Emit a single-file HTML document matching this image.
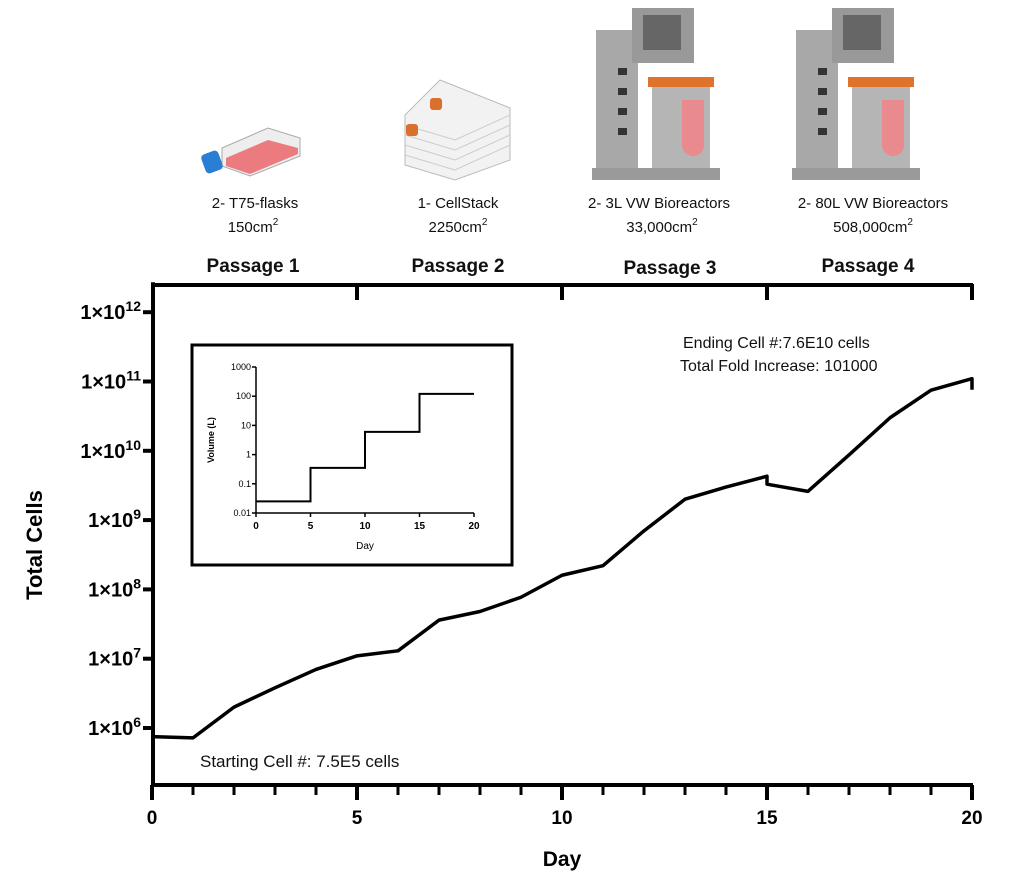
<!DOCTYPE html>
<html><head><meta charset="utf-8">
<style>
body{margin:0;background:#fff;}
svg{display:block;font-family:"Liberation Sans",Arial,sans-serif;}
</style></head>
<body>
<svg id="chart" width="1014" height="883" viewBox="0 0 1014 883" xmlns="http://www.w3.org/2000/svg">
<g>
 <g>
  <polygon points="222,148 268,128 300,138 300,156 250,176 222,166" fill="#eee" stroke="#aaa"/>
  <polygon points="226,158 268,140 298,148 298,154 250,174 226,166" fill="#ec7b80"/>
  <rect x="203" y="152" width="18" height="20" rx="4" fill="#2a7fd4" transform="rotate(-20 212 162)"/>
 </g>
 <g>
  <polygon points="405,115 440,80 510,108 510,160 455,180 405,165" fill="#f2f2f2" stroke="#bbb"/>
  <g stroke="#ccc" fill="none">
   <path d="M405,125 L455,140 L510,115"/><path d="M405,135 L455,150 L510,125"/><path d="M405,145 L455,160 L510,135"/><path d="M405,155 L455,170 L510,145"/>
  </g>
  <rect x="406" y="124" width="12" height="12" rx="3" fill="#d9702c"/>
  <rect x="430" y="98" width="12" height="12" rx="3" fill="#d9702c"/>
 </g>
 <g>
  <rect x="596" y="30" width="42" height="145" fill="#a8a8a8"/>
  <rect x="632" y="8" width="62" height="55" fill="#999"/>
  <rect x="643" y="15" width="38" height="35" fill="#666"/>
  <rect x="652" y="85" width="58" height="88" fill="#b5b5b5"/>
  <rect x="648" y="77" width="66" height="10" fill="#e0732c"/>
  <path d="M682,100 h22 v45 a11,11 0 0 1 -22,0z" fill="#e98a8f"/>
  <rect x="592" y="168" width="128" height="12" fill="#9a9a9a"/>
  <g fill="#333"><rect x="618" y="68" width="9" height="7"/><rect x="618" y="88" width="9" height="7"/><rect x="618" y="108" width="9" height="7"/><rect x="618" y="128" width="9" height="7"/></g>
 </g>
 <g>
  <rect x="796" y="30" width="42" height="145" fill="#a8a8a8"/>
  <rect x="832" y="8" width="62" height="55" fill="#999"/>
  <rect x="843" y="15" width="38" height="35" fill="#666"/>
  <rect x="852" y="85" width="58" height="88" fill="#b5b5b5"/>
  <rect x="848" y="77" width="66" height="10" fill="#e0732c"/>
  <path d="M882,100 h22 v45 a11,11 0 0 1 -22,0z" fill="#e98a8f"/>
  <rect x="792" y="168" width="128" height="12" fill="#9a9a9a"/>
  <g fill="#333"><rect x="818" y="68" width="9" height="7"/><rect x="818" y="88" width="9" height="7"/><rect x="818" y="108" width="9" height="7"/><rect x="818" y="128" width="9" height="7"/></g>
 </g>
</g>
<g font-size="15" fill="#111" text-anchor="middle">
 <text x="255" y="208">2- T75-flasks</text>
 <text x="253" y="232">150cm<tspan font-size="10" dy="-7">2</tspan></text>
 <text x="458" y="208">1- CellStack</text>
 <text x="458" y="232">2250cm<tspan font-size="10" dy="-7">2</tspan></text>
 <text x="659" y="208">2- 3L VW Bioreactors</text>
 <text x="662" y="232">33,000cm<tspan font-size="10" dy="-7">2</tspan></text>
 <text x="873" y="208">2- 80L VW Bioreactors</text>
 <text x="873" y="232">508,000cm<tspan font-size="10" dy="-7">2</tspan></text>
 <g font-weight="bold" font-size="19">
  <text x="253" y="272">Passage 1</text>
  <text x="458" y="272">Passage 2</text>
  <text x="670" y="274">Passage 3</text>
  <text x="868" y="272">Passage 4</text>
 </g>
</g>
<g id="main"></g>
<g id="inset"></g>
<text x="42" y="545" font-size="22" font-weight="bold" text-anchor="middle" transform="rotate(-90 42 545)">Total Cells</text>
<text x="562" y="866" font-size="21" font-weight="bold" text-anchor="middle">Day</text>
<text x="200" y="767" font-size="17" fill="#111">Starting Cell #: 7.5E5 cells</text>
<text x="683" y="348" font-size="16" fill="#111">Ending Cell #:7.6E10 cells</text>
<text x="680" y="371" font-size="16" fill="#111">Total Fold Increase: 101000</text>
</svg>
<script>
const days=[0,1,2,3,4,5,6,7,8,9,10,11,12,13,14,15,15,16,17,18,19,20,20];
const cells=[7.5e5,7.2e5,2e6,3.8e6,7e6,1.1e7,1.3e7,3.6e7,4.8e7,7.7e7,1.6e8,2.2e8,7e8,2e9,3e9,4.3e9,3.3e9,2.6e9,8.7e9,3e10,7.5e10,1.1e11,7.6e10];
const yTickExps=[6,7,8,9,10,11,12];
const xTickLabels=[0,5,10,15,20];
const insetDays=[0,5,5,10,10,15,15,20];
const insetVolumes=[0.025,0.025,0.35,0.35,6,6,120,120];
const insetYTicks=[0.01,0.1,1,10,100,1000];
const insetYLabels=["0.01","0.1","1","10","100","1000"];
const insetXTicks=[0,5,10,15,20];

const NS="http://www.w3.org/2000/svg";
function mk(parent,tag,attrs,txt){const e=document.createElementNS(NS,tag);for(const k in attrs)e.setAttribute(k,attrs[k]);if(txt!==undefined)e.textContent=txt;parent.appendChild(e);return e;}
const X=d=>152+d*41;
const Y=v=>728-69.3*(Math.log10(v)-6);
const main=document.getElementById('main');
let a=mk(main,'path',{d:`M153,${Y(1e12)-30} V785 H973`,stroke:'#000','stroke-width':4,fill:'none'});


let t=mk(main,'path',{d:'M152,285 H973',stroke:'#000','stroke-width':4});


[5,10,15,20].forEach(d=>{const l=mk(main,'line',{x1:X(d),x2:X(d),y1:284,y2:300,stroke:'#000','stroke-width':4});
 
 });
for(let d=0;d<=20;d++){const major=d%5===0;const l=mk(main,'line',{x1:X(d),x2:X(d),y1:785,y2:major?800:795,stroke:'#000','stroke-width':major?4:3});
 
 }
xTickLabels.forEach(d=>{const e=mk(main,'text',{x:X(d),y:824,'font-size':19,'font-weight':'bold','text-anchor':'middle'},String(d));
 
 });
yTickExps.forEach(p=>{const y=Y(Math.pow(10,p));
 const l=mk(main,'line',{x1:143,x2:153,y1:y,y2:y,stroke:'#000','stroke-width':4});
 
 
 const e=mk(main,'text',{x:141,y:y+7,'font-size':20,'font-weight':'bold','text-anchor':'end'});
 
 
 e.innerHTML='1×10<tspan font-size="14" dy="-8">'+p+'</tspan>';});
let d='';days.forEach((x,i)=>{d+=(i?'L':'M')+X(x)+','+Y(cells[i]);});
let line=mk(main,'path',{d:d,stroke:'#000','stroke-width':3.5,fill:'none','stroke-linejoin':'round'});



const ins=document.getElementById('inset');
let box=mk(ins,'rect',{x:192,y:345,width:320,height:220,fill:'#fff',stroke:'#000','stroke-width':3});


const IX=d=>256+d*10.9;
const IY=v=>513-29.2*(Math.log10(v)+2);
let ia=mk(ins,'path',{d:`M256,${IY(1000)} V513 H${IX(20)}`,stroke:'#000','stroke-width':1.5,fill:'none'});


insetYTicks.forEach((v,i)=>{const y=IY(v);mk(ins,'line',{x1:252,x2:256,y1:y,y2:y,stroke:'#000','stroke-width':1.5});
 const e=mk(ins,'text',{x:251,y:y+3,'font-size':9,'text-anchor':'end'},insetYLabels[i]);
 
 });
insetXTicks.forEach(dd=>{const x=IX(dd);mk(ins,'line',{x1:x,x2:x,y1:513,y2:517,stroke:'#000','stroke-width':1.5});
 const e=mk(ins,'text',{x:x,y:529,'font-size':10,'font-weight':'bold','text-anchor':'middle'},String(dd));
 
 });
let ixt=mk(ins,'text',{x:365,y:549,'font-size':10,'text-anchor':'middle'},'Day');


let iyt=mk(ins,'text',{x:214,y:440,'font-size':9,'font-weight':'bold','text-anchor':'middle',transform:'rotate(-90 214 440)'},'Volume (L)');


let id='';insetDays.forEach((x,i)=>{id+=(i?'L':'M')+IX(x)+','+IY(insetVolumes[i]);});
let il=mk(ins,'path',{d:id,stroke:'#000','stroke-width':2,fill:'none'});


</script>
</body></html>
